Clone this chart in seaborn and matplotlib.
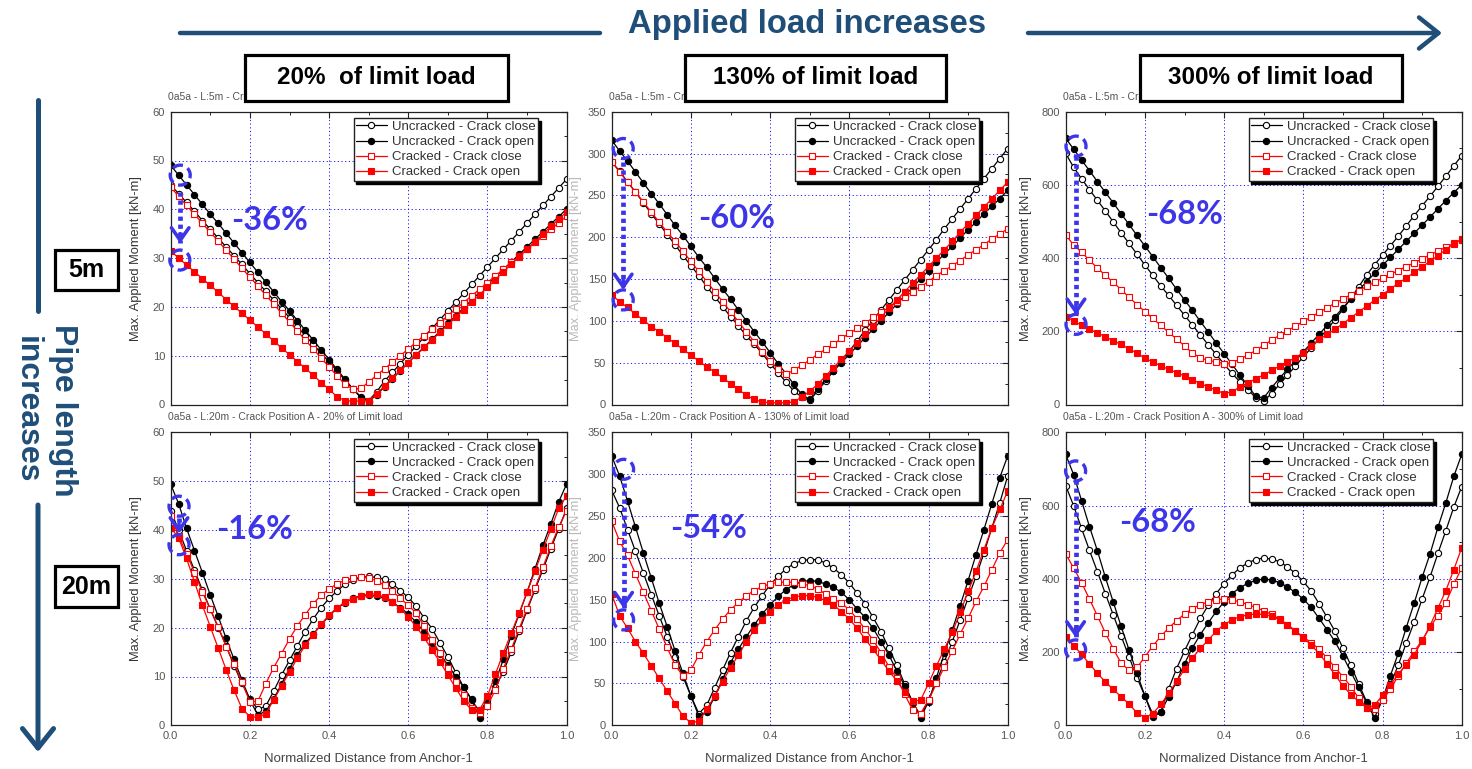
import matplotlib
matplotlib.use("Agg")
import matplotlib.pyplot as plt
import seaborn as sns
from matplotlib.patches import Rectangle, Ellipse, FancyArrowPatch
from matplotlib.lines import Line2D
from matplotlib.transforms import Affine2D, ScaledTranslation
from matplotlib.ticker import MultipleLocator, FormatStrFormatter

sns.set_style("white")
plt.rcParams['font.family'] = ['Liberation Sans', 'DejaVu Sans']

# ---------------- data ----------------
x_dist = [0.00, 0.02, 0.04, 0.06, 0.08, 0.10, 0.12, 0.14, 0.16, 0.18,
          0.20, 0.22, 0.24, 0.26, 0.28, 0.30, 0.32, 0.34, 0.36, 0.38,
          0.40, 0.42, 0.44, 0.46, 0.48, 0.50, 0.52, 0.54, 0.56, 0.58,
          0.60, 0.62, 0.64, 0.66, 0.68, 0.70, 0.72, 0.74, 0.76, 0.78,
          0.80, 0.82, 0.84, 0.86, 0.88, 0.90, 0.92, 0.94, 0.96, 0.98, 1.00]

series_labels = ["Uncracked - Crack close", "Uncracked - Crack open",
                 "Cracked - Crack close", "Cracked - Crack open"]

# L = 5 m, 20 % of limit load
l5_p20_uc = [45.0, 43.2, 41.4, 39.6, 37.7, 35.9, 34.1, 32.3, 30.5, 28.7, 26.8, 25.0, 23.2, 21.4, 19.6, 17.8, 15.9, 14.1, 12.3, 10.5, 8.7, 6.9, 5.0, 3.2, 1.6, 0.8,
             2.6, 4.8, 6.6, 8.4, 10.2, 12.0, 13.8, 15.6, 17.4, 19.2, 21.0, 22.8, 24.6, 26.4, 28.2, 30.0, 31.8, 33.6, 35.4, 37.2, 39.0, 40.8, 42.6, 44.4, 46.2]
l5_p20_uo = [49.0, 47.0, 45.0, 43.0, 41.0, 39.0, 37.1, 35.1, 33.1, 31.1, 29.1, 27.1, 25.1, 23.1, 21.1, 19.2, 17.2, 15.2, 13.2, 11.2, 9.2, 7.2, 5.2, 3.2, 1.4, 0.6,
             2.0, 3.6, 5.3, 6.9, 8.6, 10.2, 11.8, 13.4, 15.0, 16.6, 18.2, 19.8, 21.4, 23.0, 24.6, 26.1, 27.7, 29.2, 30.8, 32.3, 33.9, 35.4, 37.0, 38.5, 40.1]
l5_p20_cc = [44.5, 42.7, 40.8, 39.0, 37.1, 35.3, 33.5, 31.6, 29.8, 27.9, 26.1, 24.3, 22.4, 20.6, 18.7, 16.9, 15.1, 13.2, 11.4, 9.5, 7.7, 5.9, 4.1, 3.2, 3.3, 4.6,
             6.0, 7.3, 8.7, 10.0, 11.4, 12.8, 14.1, 15.5, 16.8, 18.2, 19.6, 20.9, 22.3, 23.6, 25.0, 26.4, 27.7, 29.1, 30.4, 31.8, 33.2, 34.5, 35.9, 37.2, 38.6]
l5_p20_co = [31.5, 30.0, 28.6, 27.2, 25.8, 24.4, 23.0, 21.5, 20.1, 18.7, 17.3, 15.9, 14.5, 13.0, 11.6, 10.2, 8.8, 7.4, 6.0, 4.5, 3.1, 1.6, 0.8, 0.7, 0.7, 0.8,
             2.2, 3.8, 5.4, 7.0, 8.6, 10.1, 11.7, 13.2, 14.8, 16.3, 17.9, 19.4, 21.0, 22.5, 24.1, 25.6, 27.2, 28.7, 30.3, 31.8, 33.4, 34.9, 36.5, 38.0, 39.5]

# L = 5 m, 130 % of limit load
l5_p130_uc = [290, 279, 266, 254, 241, 228, 216, 203, 191, 178, 166, 154, 141, 129, 117, 105, 94, 82, 72, 61, 49, 38, 27, 16, 9, 5,
              16, 28, 40, 52, 64, 76, 89, 101, 113, 125, 137, 149, 161, 173, 185, 197, 210, 222, 234, 246, 258, 270, 282, 294, 306]
l5_p130_uo = [316, 303, 291, 278, 265, 252, 240, 227, 214, 202, 189, 176, 164, 151, 138, 126, 113, 100, 87, 75, 62, 49, 37, 24, 12, 6,
              19, 30, 40, 50, 60, 70, 80, 90, 100, 110, 120, 130, 140, 150, 160, 170, 180, 189, 199, 209, 218, 228, 237, 246, 256]
l5_p130_cc = [290, 278, 266, 254, 242, 230, 218, 206, 195, 183, 171, 159, 147, 135, 123, 111, 99, 87, 75, 63, 52, 42, 36, 41, 47, 53,
              60, 66, 72, 79, 85, 91, 97, 104, 110, 116, 122, 129, 135, 141, 147, 154, 160, 166, 172, 179, 185, 191, 198, 204, 210]
l5_p130_co = [131, 123, 116, 108, 101, 93, 87, 80, 73, 66, 59, 52, 45, 39, 32, 25, 18, 11, 6, 3, 2, 2, 2, 3, 9, 16,
              24, 34, 44, 54, 64, 74, 84, 94, 104, 115, 125, 135, 145, 155, 165, 175, 185, 195, 206, 216, 226, 236, 246, 256, 266]

# L = 5 m, 300 % of limit load
l5_p300_uc = [686, 648, 617, 587, 558, 529, 499, 469, 440, 411, 381, 353, 324, 298, 271, 244, 217, 190, 163, 137, 110, 85, 62, 40, 19, 10,
              30, 55, 80, 105, 130, 155, 180, 205, 232, 260, 290, 322, 354, 382, 408, 434, 460, 488, 516, 543, 569, 596, 624, 652, 680]
l5_p300_uo = [727, 698, 668, 639, 609, 580, 551, 521, 492, 462, 433, 404, 374, 345, 315, 286, 257, 227, 198, 168, 139, 110, 80, 51, 22, 18,
              46, 72, 96, 120, 144, 168, 192, 216, 240, 264, 288, 312, 336, 358, 380, 402, 424, 446, 468, 490, 512, 535, 557, 579, 600]
l5_p300_cc = [463, 436, 416, 394, 373, 353, 334, 314, 293, 273, 254, 235, 216, 197, 179, 160, 141, 127, 121, 116, 112, 114, 124, 135, 148, 162,
              176, 189, 202, 214, 227, 239, 252, 264, 277, 288, 300, 311, 323, 334, 345, 356, 366, 377, 387, 398, 409, 419, 430, 440, 450]
l5_p300_co = [240, 229, 216, 205, 196, 185, 174, 164, 152, 140, 127, 116, 106, 96, 87, 78, 68, 57, 48, 39, 30, 35, 48, 59, 70, 81,
              93, 105, 116, 128, 142, 160, 178, 192, 205, 221, 237, 253, 269, 285, 300, 316, 331, 346, 361, 376, 391, 407, 423, 439, 452]

# L = 20 m, 20 % of limit load
l20_p20_uc = [44.0, 40.0, 35.8, 31.8, 27.7, 23.8, 20.0, 16.3, 12.2, 8.6, 5.4, 3.3, 3.9, 7.0, 10.3, 13.3, 16.3, 19.2, 21.8, 24.1, 26.0, 27.5, 28.9, 29.7, 30.3, 30.5,
              30.3, 29.9, 29.0, 27.6, 26.2, 24.4, 22.0, 19.8, 16.9, 14.0, 10.8, 7.8, 5.2, 2.8, 5.1, 7.8, 11.0, 15.0, 19.3, 23.6, 27.8, 31.9, 36.2, 40.3, 44.5]
l20_p20_uo = [49.4, 45.4, 40.4, 35.8, 31.3, 26.7, 22.3, 17.8, 13.5, 9.3, 5.2, 2.1, 2.9, 5.3, 8.5, 11.6, 14.5, 16.8, 18.7, 20.6, 22.4, 24.0, 25.1, 26.0, 26.5, 26.6,
              26.5, 26.0, 25.2, 24.1, 22.8, 21.1, 19.1, 16.8, 14.7, 12.3, 10.0, 7.8, 5.3, 1.5, 4.6, 9.0, 13.5, 18.4, 22.8, 27.3, 32.1, 36.9, 41.3, 45.8, 49.5]
l20_p20_cc = [42.9, 38.8, 35.2, 31.3, 27.3, 23.8, 20.2, 16.1, 12.6, 8.8, 4.8, 4.9, 8.5, 11.8, 14.7, 17.7, 20.4, 22.7, 24.9, 26.7, 27.9, 29.0, 29.7, 30.2, 30.3, 30.2,
              29.6, 28.7, 27.5, 26.0, 24.6, 23.0, 20.3, 17.4, 14.8, 11.8, 8.9, 6.2, 3.5, 2.6, 4.0, 7.3, 11.6, 15.6, 19.8, 23.9, 28.1, 32.4, 36.7, 40.7, 44.0]
l20_p20_co = [40.5, 38.4, 34.2, 29.4, 24.6, 20.2, 15.8, 11.4, 7.2, 3.4, 1.8, 1.6, 2.4, 5.2, 8.1, 10.9, 13.8, 16.4, 18.6, 20.7, 22.6, 24.1, 25.2, 25.9, 26.5, 26.9,
              26.9, 26.2, 25.3, 23.9, 22.2, 20.2, 18.0, 15.4, 13.0, 10.3, 7.6, 5.0, 3.1, 3.2, 6.0, 10.5, 14.8, 18.9, 23.0, 27.3, 31.6, 36.0, 40.2, 44.5, 47.0]

# L = 20 m, 130 % of limit load
l20_p130_uc = [281, 260, 234, 208, 182, 156, 131, 106, 82, 58, 35, 14, 24, 45, 66, 87, 106, 125, 141, 155, 168, 178, 187, 193, 197, 198,
               198, 194, 188, 180, 170, 158, 145, 129, 112, 92, 72, 49, 27, 12, 30, 52, 76, 100, 126, 152, 178, 206, 236, 266, 298]
l20_p130_uo = [322, 298, 268, 237, 206, 176, 146, 118, 89, 62, 35, 11, 16, 34, 55, 75, 91, 106, 120, 133, 144, 154, 162, 168, 172, 173,
               172, 169, 165, 159, 150, 139, 129, 116, 100, 84, 65, 47, 28, 9, 28, 57, 86, 114, 143, 173, 204, 234, 265, 296, 322]
l20_p130_cc = [244, 220, 203, 181, 159, 137, 115, 93, 72, 59, 66, 84, 100, 114, 127, 138, 147, 155, 161, 166, 169, 171, 171, 171, 169, 167,
               163, 157, 151, 146, 138, 127, 115, 102, 87, 70, 56, 37, 18, 14, 30, 50, 70, 89, 109, 128, 148, 166, 186, 206, 222]
l20_p130_co = [157, 131, 116, 100, 86, 71, 56, 41, 26, 11, 3, 5, 19, 35, 52, 69, 84, 100, 114, 126, 136, 144, 150, 153, 155, 155,
               153, 149, 144, 136, 127, 116, 103, 91, 78, 65, 53, 40, 29, 30, 50, 71, 91, 111, 135, 160, 184, 210, 236, 258, 280]

# L = 20 m, 300 % of limit load
l20_p300_uc = [655, 600, 538, 478, 420, 360, 302, 244, 187, 130, 80, 30, 35, 100, 155, 203, 248, 292, 328, 360, 387, 411, 430, 444, 453, 457,
               454, 447, 433, 415, 393, 367, 332, 295, 257, 211, 164, 113, 64, 32, 70, 112, 165, 225, 282, 345, 405, 470, 532, 596, 652]
l20_p300_uo = [740, 685, 614, 543, 477, 405, 337, 270, 206, 142, 80, 22, 36, 78, 119, 168, 212, 248, 280, 311, 337, 360, 376, 388, 396, 400,
               397, 390, 378, 363, 345, 322, 292, 261, 229, 189, 146, 104, 61, 21, 70, 136, 197, 267, 334, 404, 468, 541, 608, 680, 740]
l20_p300_cc = [468, 430, 390, 345, 299, 253, 209, 170, 150, 158, 187, 217, 243, 266, 286, 304, 319, 330, 337, 343, 345, 343, 337, 330, 322, 313,
               303, 290, 275, 258, 241, 226, 208, 184, 158, 133, 106, 74, 48, 44, 68, 99, 135, 170, 202, 232, 268, 300, 335, 385, 430]
l20_p300_co = [242, 218, 194, 168, 142, 119, 98, 78, 58, 34, 21, 32, 57, 87, 120, 153, 184, 210, 233, 257, 275, 288, 297, 302, 304, 303,
               298, 288, 274, 257, 239, 219, 196, 168, 138, 108, 84, 65, 48, 55, 82, 111, 140, 166, 193, 230, 272, 320, 368, 425, 485]

panel_series = [
    [l5_p20_uc, l5_p20_uo, l5_p20_cc, l5_p20_co],
    [l5_p130_uc, l5_p130_uo, l5_p130_cc, l5_p130_co],
    [l5_p300_uc, l5_p300_uo, l5_p300_cc, l5_p300_co],
    [l20_p20_uc, l20_p20_uo, l20_p20_cc, l20_p20_co],
    [l20_p130_uc, l20_p130_uo, l20_p130_cc, l20_p130_co],
    [l20_p300_uc, l20_p300_uo, l20_p300_cc, l20_p300_co],
]
for grp in panel_series:
    for s in grp:
        assert len(s) == len(x_dist), len(s)

panel_titles = ["0a5a - L:5m - Crack Position A - 20% of Limit load",
                "0a5a - L:5m - Crack Position A - 130% of Limit load",
                "0a5a - L:5m - Crack Position A - 300% of Limit load",
                "0a5a - L:20m - Crack Position A - 20% of Limit load",
                "0a5a - L:20m - Crack Position A - 130% of Limit load",
                "0a5a - L:20m - Crack Position A - 300% of Limit load"]
y_max = [60, 350, 800, 60, 350, 800]
y_major = [10, 50, 200, 10, 50, 200]
y_minor = [5, 25, 100, 5, 25, 100]

load_labels = ["20%  of limit load", "130% of limit load", "300% of limit load"]
length_labels = ["5m", "20m"]

# reduction annotations (text, text position, upper circle, lower circle, arrow start/end)
reduction_text = ["-36%", "-60%", "-68%", "-16%", "-54%", "-68%"]
reduction_text_xy = [(0.25, 37.8), (0.316, 222), (0.30, 518), (0.211, 40.1), (0.244, 235), (0.231, 553)]
reduction_top = [(0.024, 47.0), (0.029, 306), (0.026, 706), (0.021, 44.9), (0.030, 306), (0.025, 695)]
reduction_bottom = [(0.023, 29.6), (0.029, 125), (0.026, 219), (0.021, 37.0), (0.030, 126), (0.025, 206)]
reduction_arrow = [(43.5, 33.0), (290, 137), (680, 245), (42.5, 39.3), (290, 140), (670, 240)]

# ---------------- styling ----------------
W, H = 1472, 769
fig = plt.figure(figsize=(W / 100, H / 100), dpi=100)
fig.patch.set_facecolor("white")

NAVY = "#1F4E79"
BLUE = "#3D35E8"
styles = [
    dict(color="black", marker="o", mfc="white", mec="black"),
    dict(color="black", marker="o", mfc="black", mec="black"),
    dict(color="red", marker="s", mfc="white", mec="red"),
    dict(color="red", marker="s", mfc="red", mec="red"),
]

col_left = [170.7, 611.7, 1065.7]
row_top = [111.7, 432.5]
ax_w, ax_h = 396.0, 292.8
ylabel_x = [-0.072, -0.075, -0.085]


def px_axes(left, top, w, h):
    return [left / W, 1 - (top + h) / H, w / W, h / H]


for i in range(6):
    r, c = divmod(i, 3)
    ax = fig.add_axes(px_axes(col_left[c], row_top[r], ax_w, ax_h))
    for vals, lab, st in zip(panel_series[i], series_labels, styles):
        sns.lineplot(x=x_dist, y=vals, ax=ax, estimator=None, sort=False,
                     label=lab, lw=0.9, markersize=4.5, mew=0.8, **st)
    ax.set_xlim(0, 1)
    ax.set_ylim(0, y_max[i])
    ax.xaxis.set_major_locator(MultipleLocator(0.2))
    ax.xaxis.set_minor_locator(MultipleLocator(0.1))
    ax.yaxis.set_major_locator(MultipleLocator(y_major[i]))
    ax.yaxis.set_minor_locator(MultipleLocator(y_minor[i]))
    ax.xaxis.set_major_formatter(FormatStrFormatter("%.1f"))
    ax.tick_params(which="both", direction="in", top=True, right=True,
                   color="#222", labelcolor="#555", labelsize=8, pad=4)
    ax.tick_params(which="major", length=4.5, width=0.8)
    ax.tick_params(which="minor", length=2.5, width=0.7)
    if r == 0:
        ax.tick_params(labelbottom=False)
        ax.set_xlabel("")
    else:
        ax.set_xlabel("Normalized Distance from Anchor-1", fontsize=9.5, color="#444")
        ax.xaxis.set_label_coords(0.5, -0.095)
    ax.grid(which="major", color="#1a1aff", linestyle=(0, (1.2, 2.6)), lw=0.7)
    for sp in ax.spines.values():
        sp.set_color("#222")
        sp.set_linewidth(0.9)
    ax.set_ylabel("Max. Applied Moment [kN-m]", fontsize=9.3, color="#333",
                  alpha=0.35 if c == 1 else 1.0)
    ax.yaxis.set_label_coords(ylabel_x[c], 0.5)
    ax.text(-0.006, 1 + 15 / ax_h, panel_titles[i], transform=ax.transAxes,
            ha="left", va="center", fontsize=7.5, color="#555")

    leg = ax.legend(loc="upper right", bbox_to_anchor=(0.928, 0.978), borderaxespad=0,
                    frameon=True, fancybox=False, framealpha=1,
                    shadow={"color": "black", "alpha": 1.0},
                    edgecolor="#222", fontsize=9.5, labelcolor="#333",
                    handlelength=2.3, handletextpad=0.4, borderpad=0.2,
                    labelspacing=0.22)
    leg.get_frame().set_linewidth(1.0)

    # reduction annotation
    tx, ty = reduction_text_xy[i]
    ax.text(tx, ty, reduction_text[i], ha="center", va="center", fontsize=23.5,
            fontweight="bold", color=BLUE, family=["Lato", "DejaVu Sans"])
    for (cx, cy) in (reduction_top[i], reduction_bottom[i]):
        tr = Affine2D() + ScaledTranslation(cx, cy, ax.transData)
        e = Ellipse((0, 0), 20, 20, transform=tr, facecolor="none", edgecolor=BLUE,
                    lw=2.4, linestyle=(1.0, (3.2, 1.6)), clip_on=False, zorder=6)
        ax.add_artist(e)
    ax0 = reduction_top[i][0]
    y0, y1 = reduction_arrow[i]
    ax.plot([ax0, ax0], [y0, y1], color=BLUE, lw=3.4, linestyle=(0, (0.9, 0.8)),
            dash_capstyle="butt", zorder=6, clip_on=False)
    ax.annotate("", xy=(ax0, y1), xytext=(0, 7), textcoords="offset points",
                arrowprops=dict(arrowstyle="->,head_length=0.5,head_width=0.35",
                                lw=2.6, color=BLUE, shrinkA=0, shrinkB=0,
                                mutation_scale=18), zorder=6)

# ---------------- figure decorations ----------------
fig.text(807 / W, 1 - 25 / H, "Applied load increases", ha="center", va="center",
         fontsize=23.7, fontweight="bold", color=NAVY)
fig.add_artist(Line2D([180 / W, 600 / W], [1 - 33 / H] * 2, lw=3.2, color=NAVY,
                      transform=fig.transFigure))
fig.add_artist(FancyArrowPatch((1028 / W, 1 - 33 / H), (1442 / W, 1 - 33 / H),
                               transform=fig.transFigure, color=NAVY, lw=3.2,
                               arrowstyle="->,head_length=0.5,head_width=0.4",
                               mutation_scale=28, shrinkA=0, shrinkB=0))

fig.add_artist(Line2D([38 / W, 38 / W], [1 - 100 / H, 1 - 311 / H], lw=3.6, color=NAVY,
                      transform=fig.transFigure))
fig.add_artist(FancyArrowPatch((38 / W, 1 - 505 / H), (38 / W, 1 - 752 / H),
                               transform=fig.transFigure, color=NAVY, lw=3.6,
                               arrowstyle="->,head_length=0.5,head_width=0.4",
                               mutation_scale=28, shrinkA=0, shrinkB=0))
fig.text(45 / W, 1 - 410 / H, "Pipe length\nincreases", rotation=-90, ha="center",
         va="center", multialignment="center", linespacing=1.25,
         fontsize=23, fontweight="bold", color=NAVY)

box_px = [(245, 55, 508, 101), (685, 55, 946, 101), (1140, 55, 1402, 101)]
for (x0, y0, x1, y1), lab in zip(box_px, load_labels):
    fig.add_artist(Rectangle((x0 / W, 1 - y1 / H), (x1 - x0) / W, (y1 - y0) / H,
                             transform=fig.transFigure, facecolor="white",
                             edgecolor="black", lw=2.3, zorder=10))
    fig.text((x0 + x1) / 2 / W, 1 - (y0 + y1) / 2 / H, lab, ha="center", va="center",
             fontsize=17.5, fontweight="bold", color="black", zorder=11)

len_box_px = [(55, 250, 118, 290), (55, 566, 118, 607)]
for (x0, y0, x1, y1), lab in zip(len_box_px, length_labels):
    fig.add_artist(Rectangle((x0 / W, 1 - y1 / H), (x1 - x0) / W, (y1 - y0) / H,
                             transform=fig.transFigure, facecolor="white",
                             edgecolor="black", lw=2.3, zorder=10))
    fig.text((x0 + x1) / 2 / W, 1 - (y0 + y1) / 2 / H, lab, ha="center", va="center",
             fontsize=18, fontweight="bold", color="black", zorder=11)

fig.savefig("out.png", dpi=100, facecolor="white")
